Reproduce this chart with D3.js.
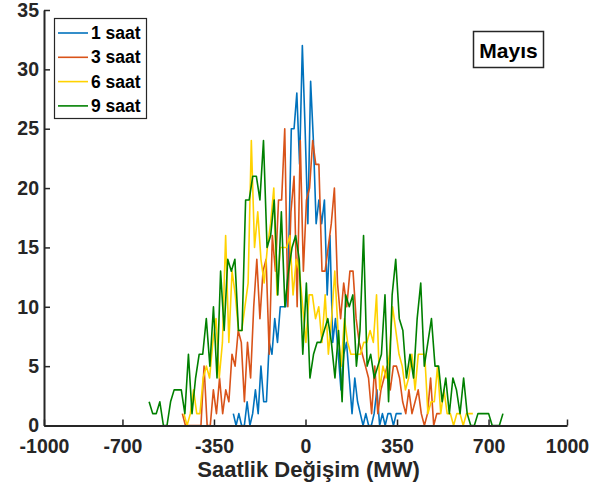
<!DOCTYPE html>
<html><head><meta charset="utf-8">
<script src="https://cdn.jsdelivr.net/npm/d3@7"></script>
<style>body{margin:0;background:#fff}svg{display:block}text{font-family:"Liberation Sans",Arial,Helvetica,sans-serif;font-weight:bold}</style>
</head><body><svg id="c" width="599" height="493"></svg>
<script>
const seriesNames = ["1 saat", "3 saat", "6 saat", "9 saat"];
const xStart = [-276, -471, -465, -598];
const xEnd = [368, 514, 640, 755];
const saat1 = [1,0,1,0,0,2,0,1,3,1, 5,2,2,7,6,9,7,10,10,10, 14,25,25,28,22,32,25,17,29,24,
  17,19,17,19,11,16,7,9,6,3, 6,7,4,1,4,2,1,0,1,0, 0,1,3,0,1,0,1,1,0,1, 1,1];
const saat3 = [1,0,0,0,0,0,0,5,0,0, 3,1,4,1,3,2,6,5,8,7, 2,7,4,10,14,9,13,14,6,16,
  13,19,19,25,10,18,21,10,24,13, 19,20,24,22,22,13,13,15,17,20, 12,9,12,10,13,13,9,7,6,5,
  4,1,5,1,3,4,5,3,5,5, 4,2,1,3,1,2,3,1,0,1, 4,0,1,1];
const saat6 = [1,0,1,3,1,1,4,5,4,7, 9,4,7,16,7,13,11,8,8,10, 12,24,15,18,14,12,15,17,20,11,
  15,15,15,16,11,14,13,10,7,11, 11,9,10,7,11,6,9,13,8,5, 9,7,6,6,6,6,7,7,8,7,
  11,3,5,4,6,10,8,6,5,3, 4,6,3,6,6,6,1,2,2,5, 1,3,1,1,0,1,1,0,1,1, 1];
const saat9 = [2,1,1,2,0,0,2,3,3,3, 1,6,1,4,6,6,9,5,10,4, 13,8,14,13,14,8,8,19,19,21,
  21,19,24,15,16,19,11,18,10,13, 15,16,14,6,12,4,6,7,7,8, 9,7,4,8,2,11,10,11,5,8,
  16,5,6,4,5,6,11,2,11,14, 9,8,4,6,4,9,12,5,7,9, 5,5,2,4,1,4,3,1,4,1, 0,0,1,1,1,1,0,0,0,1];
const xTicks = [-1000, -700, -350, 0, 350, 700, 1000];
const yTicks = [0, 5, 10, 15, 20, 25, 30, 35];
const xLabel = "Saatlik Değişim (MW)";
const panelLabel = "Mayıs";

const colors = ["#0072BD", "#D95319", "#FFD200", "#008000"];
const allSeries = [saat1, saat3, saat6, saat9];

const svg = d3.select("#c");
const M = {l: 44, r: 567, t: 10, b: 425.5};
const x = d3.scaleLinear().domain([-1000, 1000]).range([M.l, M.r]);
const y = d3.scaleLinear().domain([0, 35]).range([M.b, M.t]);
const axCol = "#262626";

// lines
allSeries.forEach((vals, si) => {
  const n = vals.length;
  const step = (xEnd[si] - xStart[si]) / (n - 1);
  const pts = vals.map((v, i) => [xStart[si] + i * step, v]);
  svg.append("path").datum(pts)
    .attr("fill", "none").attr("stroke", colors[si]).attr("stroke-width", 1.6)
    .attr("stroke-linejoin", "round")
    .attr("d", d3.line().x(d => x(d[0])).y(d => y(d[1])));
});

// axes
const gx = svg.append("g").attr("transform", `translate(0,${M.b})`)
  .call(d3.axisBottom(x).tickValues(xTicks).tickSizeInner(-6).tickSizeOuter(0).tickPadding(14).tickFormat(d3.format("d")));
const gy = svg.append("g").attr("transform", `translate(${M.l},0)`)
  .call(d3.axisLeft(y).tickValues(yTicks).tickSizeInner(-6).tickSizeOuter(0).tickPadding(5));
[gx, gy].forEach(g => {
  g.select(".domain").attr("stroke", axCol).attr("stroke-width", 2);
  g.selectAll(".tick line").attr("stroke", axCol).attr("stroke-width", 1.5);
  g.selectAll(".tick text").attr("fill", axCol).style("font-size", "19.5px").style("font-weight", "bold")
    .style("font-family", '"Liberation Sans",Arial,sans-serif');
});
gx.selectAll(".tick text").text(d => d < 0 ? "-" + Math.abs(d) : d);

svg.append("text").attr("x", 308.5).attr("y", 477).attr("text-anchor", "middle")
  .attr("fill", axCol).style("font-size", "22px").text(xLabel);

// legend
const lg = svg.append("g");
lg.append("rect").attr("x", 54.5).attr("y", 18.5).attr("width", 92).attr("height", 100)
  .attr("fill", "#fff").attr("stroke", axCol).attr("stroke-width", 1.2);
seriesNames.forEach((nm, i) => {
  const yy = 33 + i * 24.3;
  lg.append("line").attr("x1", 58).attr("x2", 88).attr("y1", yy).attr("y2", yy)
    .attr("stroke", colors[i]).attr("stroke-width", 1.6);
  lg.append("text").attr("x", 91).attr("y", yy + 6).attr("fill", "#000").style("font-size", "17.5px").text(nm);
});

// panel label
svg.append("rect").attr("x", 473.5).attr("y", 31.5).attr("width", 70).attr("height", 36)
  .attr("fill", "#fff").attr("stroke", axCol).attr("stroke-width", 1.5);
svg.append("text").attr("x", 508.5).attr("y", 57.5).attr("text-anchor", "middle").attr("fill", "#000")
  .style("font-size", "21px").text(panelLabel);
</script></body></html>
